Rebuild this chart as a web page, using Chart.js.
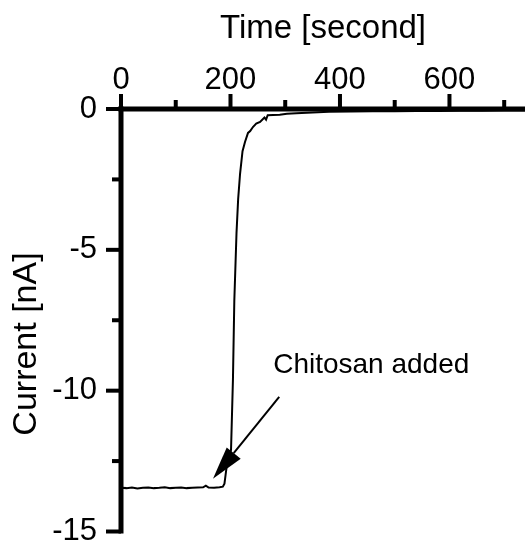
<!DOCTYPE html>
<html><head><meta charset="utf-8">
<script src="https://cdn.jsdelivr.net/npm/chart.js@4.4.1/dist/chart.umd.min.js"></script>
<style>html,body{margin:0;padding:0;background:#fff}#wrap{width:525px;height:540px;position:relative}</style>
</head><body><div id="wrap"><canvas id="c"></canvas></div>
<script>
const timeSeconds = [0,10,20,30,40,50,60,70,80,90,100,110,120,130,140,150,155,160,170,180,186,189,191,193,197,201,204.5,207,211,214,217.5,222,226.5,232,236,241,247,254,262,265,268,278,290,303,320,350,380,420,460,500,540,580,620,660,700,738];
const currentNA = [-13.45,-13.46,-13.44,-13.47,-13.45,-13.44,-13.46,-13.45,-13.43,-13.46,-13.45,-13.44,-13.46,-13.45,-13.44,-13.43,-13.37,-13.44,-13.45,-13.43,-13.41,-13.3,-13.0,-12.7,-12.4,-12.1,-9.6,-6.8,-4.4,-3.2,-2.3,-1.5,-1.17,-0.85,-0.78,-0.64,-0.52,-0.46,-0.3,-0.38,-0.22,-0.21,-0.2,-0.17,-0.15,-0.12,-0.1,-0.09,-0.08,-0.08,-0.07,-0.07,-0.06,-0.06,-0.05,-0.05];
const xTickValues = [0,200,400,600];
const xMinorTickValues = [100,300,500,700];
const yTickValues = [-15,-10,-5,0];
const yMinorTickValues = [-12.5,-7.5,-2.5];
const xRange = [0,738];
const yRange = [-15,0];
const xTitle = 'Time [second]';
const yTitle = 'Current [nA]';
const annotationText = 'Chitosan added';
const annotationTextAt = {x: 278, y: -9.37};
const arrowFrom = {x: 289, y: -10.22};
const arrowTo = {x: 168, y: -13.13};

const FONT = "'Liberation Sans', Arial, Helvetica, sans-serif";

const axesPlugin = {
  id: 'axesPlugin',
  afterDatasetsDraw(chart) {
    const {ctx, scales: {x, y}, chartArea: a} = chart;
    ctx.save();
    ctx.fillStyle = '#000';
    ctx.strokeStyle = '#000';
    const x0 = x.getPixelForValue(xRange[0]);
    const y0 = y.getPixelForValue(yRange[1]);
    const yb = y.getPixelForValue(yRange[0]);
    ctx.fillRect(x0 - 2.5, y0 - 2.5, a.right - x0 + 2.5, 5);
    ctx.fillRect(x0 - 2.5, y0 - 2.5, 5, yb - y0 + 4.5);
    xTickValues.forEach(v => { const p = x.getPixelForValue(v); ctx.fillRect(p - 2, y0 - 15, 4, 15); });
    xMinorTickValues.forEach(v => { const p = x.getPixelForValue(v); ctx.fillRect(p - 2, y0 - 9, 4, 9); });
    yTickValues.forEach(v => { const p = y.getPixelForValue(v); ctx.fillRect(x0 - 15, p - 2, 15, 4); });
    yMinorTickValues.forEach(v => { const p = y.getPixelForValue(v); ctx.fillRect(x0 - 9, p - 2, 9, 4); });
    ctx.save();
    ctx.translate(27, 344);
    ctx.rotate(-Math.PI / 2);
    ctx.font = '34px ' + FONT;
    ctx.textAlign = 'center';
    ctx.textBaseline = 'middle';
    ctx.fillText(yTitle, 0, 0);
    ctx.restore();
    ctx.font = '28px ' + FONT;
    ctx.textAlign = 'left';
    ctx.textBaseline = 'alphabetic';
    ctx.fillText(annotationText, x.getPixelForValue(annotationTextAt.x), y.getPixelForValue(annotationTextAt.y));
    const fx = x.getPixelForValue(arrowFrom.x), fy = y.getPixelForValue(arrowFrom.y);
    const tx = x.getPixelForValue(arrowTo.x), ty = y.getPixelForValue(arrowTo.y);
    const ang = Math.atan2(ty - fy, tx - fx);
    const headLen = 33, headHalf = 9;
    const bx = tx - headLen * Math.cos(ang), by = ty - headLen * Math.sin(ang);
    ctx.lineWidth = 2;
    ctx.beginPath(); ctx.moveTo(fx, fy); ctx.lineTo(bx, by); ctx.stroke();
    ctx.beginPath();
    ctx.moveTo(tx, ty);
    ctx.lineTo(bx + headHalf * Math.sin(ang), by - headHalf * Math.cos(ang));
    ctx.lineTo(bx - headHalf * Math.sin(ang), by + headHalf * Math.cos(ang));
    ctx.closePath(); ctx.fill();
    ctx.restore();
  }
};

new Chart(document.getElementById('c'), {
  type: 'line',
  data: {
    datasets: [{
      data: timeSeconds.map((t, i) => ({x: t, y: currentNA[i]})),
      borderColor: '#000',
      borderWidth: 2,
      pointRadius: 0,
      tension: 0,
      fill: false
    }]
  },
  options: {
    responsive: true,
    maintainAspectRatio: false,
    animation: false,
    layout: {padding: {left: 0, right: 0, top: 0, bottom: 8.5}},
    plugins: {legend: {display: false}, tooltip: {enabled: false}},
    scales: {
      x: {
        type: 'linear', position: 'top', min: xRange[0], max: xRange[1],
        grid: {display: false, drawTicks: false},
        border: {display: false},
        afterBuildTicks: s => { s.ticks = xTickValues.map(v => ({value: v})); },
        afterFit: s => { s.height = 109; s.paddingLeft = 0; s.paddingRight = 0; s.paddingTop = 0; s.paddingBottom = 0; },
        ticks: {color: '#000', font: {family: FONT, size: 31}, padding: 10, maxRotation: 0, autoSkip: false},
        title: {display: true, text: xTitle, color: '#000', font: {family: FONT, size: 33}, padding: {top: 9, bottom: 0}}
      },
      y: {
        type: 'linear', position: 'left', min: yRange[0], max: yRange[1],
        grid: {display: false, drawTicks: false},
        border: {display: false},
        afterBuildTicks: s => { s.ticks = yTickValues.map(v => ({value: v})); },
        afterFit: s => { s.width = 121; s.paddingTop = 0; s.paddingBottom = 0; s.paddingLeft = 0; s.paddingRight = 0; },
        ticks: {color: '#000', font: {family: FONT, size: 31}, padding: 24, autoSkip: false}
      }
    }
  },
  plugins: [axesPlugin]
});
</script>
</body></html>
